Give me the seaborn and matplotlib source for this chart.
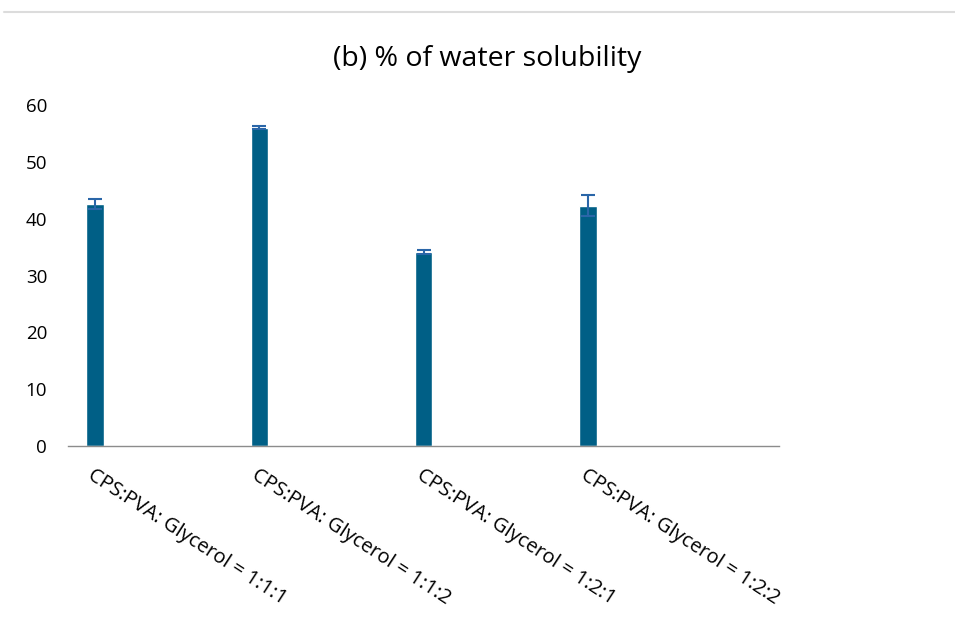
import matplotlib
matplotlib.use("Agg")
import matplotlib.pyplot as plt
import seaborn as sns
from matplotlib.lines import Line2D

labels = ["CPS:PVA: Glycerol = 1:1:1", "CPS:PVA: Glycerol = 1:1:2",
          "CPS:PVA: Glycerol = 1:2:1", "CPS:PVA: Glycerol = 1:2:2"]
values = [42.6, 56.0, 34.1, 42.3]
errors = [0.9, 0.3, 0.4, 1.9]
yticks = [0, 10, 20, 30, 40, 50, 60]

sns.set_style("white")
plt.rcParams["font.family"] = ["Open Sans", "DejaVu Sans"]

fig = plt.figure(figsize=(9.55, 6.17), dpi=100)
ax = fig.add_axes([0.0712, 0.2771, 0.7445, 0.5527])

sns.barplot(x=list(range(len(labels))), y=values, color="#005F86",
            width=0.105, saturation=1, ax=ax, native_scale=True)
ax.errorbar(range(len(labels)), values, yerr=errors, fmt="none",
            ecolor="#2A66A8", elinewidth=1.5, capsize=5, capthick=1.5)

ax.set_xlim(-0.164, 4.163)
ax.set_ylim(0, 60)
ax.set_yticks(yticks)
ax.set_yticklabels([str(t) for t in yticks], fontsize=13.5, color="black")
ax.set_xticks(range(len(labels)))
ax.set_xticklabels(labels, rotation=-33, ha="left", va="top",
                   rotation_mode="anchor", fontsize=14.5, color="black")
ax.tick_params(axis="both", length=0)
ax.tick_params(axis="x", pad=14)
ax.tick_params(axis="y", pad=15)
for s in ["left", "right", "top"]:
    ax.spines[s].set_visible(False)
ax.spines["bottom"].set_color("#8c8c8c")
ax.spines["bottom"].set_linewidth(1)
ax.set_title("(b) % of water solubility", fontsize=20.5, pad=28, x=0.59,
             color="black")

fig.add_artist(Line2D([0.004, 1.0], [0.9806, 0.9806], color="#dcdcdc", lw=1.5))

fig.savefig("out.png", dpi=100)
